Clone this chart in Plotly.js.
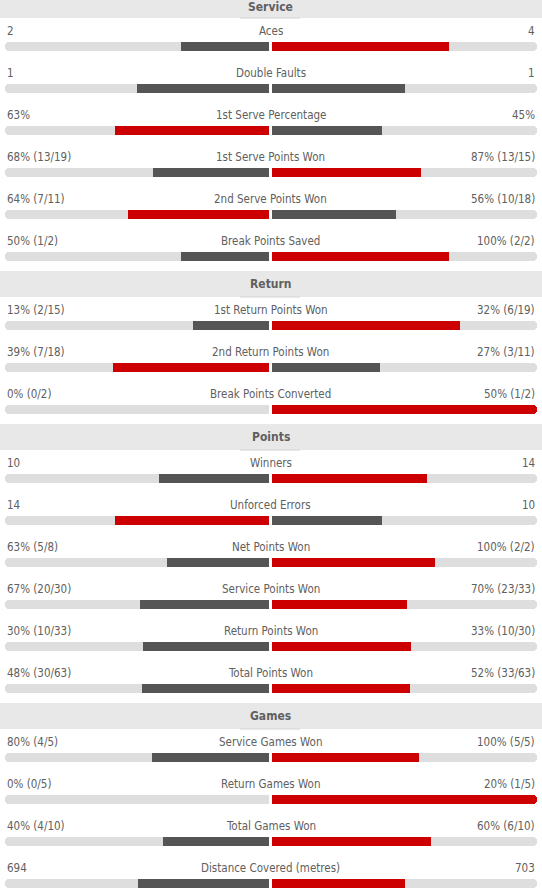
<!DOCTYPE html>
<html>
<head>
<meta charset="utf-8">
<script src="https://cdn.plot.ly/plotly-3.0.1.min.js"></script>
<style>
html,body{margin:0;padding:0;background:#fff;}
#chart{width:542px;height:890px;}
</style>
</head>
<body>
<div id="chart"></div>
<script>
// ---- DATA ----
const sectionNames = ["Service", "Return", "Points", "Games"];
const sectionSizes = [6, 3, 6, 4];

const statNames = [
  "Aces", "Double Faults", "1st Serve Percentage", "1st Serve Points Won", "2nd Serve Points Won", "Break Points Saved",
  "1st Return Points Won", "2nd Return Points Won", "Break Points Converted",
  "Winners", "Unforced Errors", "Net Points Won", "Service Points Won", "Return Points Won", "Total Points Won",
  "Service Games Won", "Return Games Won", "Total Games Won", "Distance Covered (metres)"
];
const leftValues  = [2, 1, 63, 68, 64, 50, 13, 39, 0, 10, 14, 63, 67, 30, 48, 80, 0, 40, 694];
const rightValues = [4, 1, 45, 87, 56, 100, 32, 27, 50, 14, 10, 100, 70, 33, 52, 100, 20, 60, 703];
const leftLabels = ["2", "1", "63%", "68% (13/19)", "64% (7/11)", "50% (1/2)",
  "13% (2/15)", "39% (7/18)", "0% (0/2)",
  "10", "14", "63% (5/8)", "67% (20/30)", "30% (10/33)", "48% (30/63)",
  "80% (4/5)", "0% (0/5)", "40% (4/10)", "694"];
const rightLabels = ["4", "1", "45%", "87% (13/15)", "56% (10/18)", "100% (2/2)",
  "32% (6/19)", "27% (3/11)", "50% (1/2)",
  "14", "10", "100% (2/2)", "70% (23/33)", "33% (10/30)", "52% (33/63)",
  "100% (5/5)", "20% (1/5)", "60% (6/10)", "703"];

// ---- STYLE / LAYOUT CONSTANTS ----
const W = 542, H = 890;
const RED = "#cc0000", DARK = "#555555", TRACK = "#dedede", BAND = "#e8e8e8", TXT = "#606060";
const FONT = "Tahoma, 'DejaVu Sans Condensed', 'Liberation Sans', sans-serif";
const leftBase = 269, rightBase = 272, leftHalf = 264, rightHalf = 265;
const headerH = 27, rowH = 42, startY = -8;
const barH = 9, capLen = 20, RADIUS = 4;

// compute row positions
const barY = [], labelY = [], bands = [];
let cur = startY;
sectionSizes.forEach((n, s) => {
  bands.push({top: cur, name: sectionNames[s]});
  cur += headerH;
  for (let k = 0; k < n; k++) {
    labelY.push(cur + 12);
    barY.push(cur + 23 + barH / 2);
    cur += rowH;
  }
});

const N = statNames.length;
const leftLen = [], rightLen = [], leftCol = [], rightCol = [];
for (let i = 0; i < N; i++) {
  const tot = leftValues[i] + rightValues[i];
  leftLen.push(-(tot ? leftValues[i] / tot : 0) * leftHalf);
  rightLen.push((tot ? rightValues[i] / tot : 0) * rightHalf);
  leftCol.push(leftValues[i] > rightValues[i] ? RED : DARK);
  rightCol.push(rightValues[i] > leftValues[i] ? RED : DARK);
}

function barTrace(ys, xs, base, color, radius) {
  return {
    type: "bar", orientation: "h", y: ys, x: xs, base: base,
    width: barH, marker: {color: color, line: {width: 0}, cornerradius: radius},
    hoverinfo: "skip"
  };
}

const traces = [];
// a bar that is square at its inner end and rounded at its outer end:
// square body + short rounded cap overlapping the outer end
function addRoundedEnd(ys, lens, base, colors) {
  const sgn = lens.map(l => Math.sign(l));
  traces.push(barTrace(ys, lens.map((l, j) => l - sgn[j] * RADIUS), base, colors, 0));
  traces.push(barTrace(ys, lens.map((l, j) => sgn[j] * capLen),
    lens.map((l, j) => base + l - sgn[j] * capLen), colors, RADIUS));
}
addRoundedEnd(barY, barY.map(() => -leftHalf), leftBase, TRACK);
addRoundedEnd(barY, barY.map(() => rightHalf), rightBase, TRACK);

function addValueBars(lens, cols, base, half) {
  const part = {y: [], x: [], c: []}, full = {y: [], x: [], c: []};
  for (let i = 0; i < N; i++) {
    if (lens[i] === 0) continue;
    const t = Math.abs(Math.abs(lens[i]) - half) < 0.01 ? full : part;
    t.y.push(barY[i]); t.x.push(lens[i]); t.c.push(cols[i]);
  }
  if (part.y.length) traces.push(barTrace(part.y, part.x, base, part.c, 0));
  if (full.y.length) addRoundedEnd(full.y, full.x, base, full.c);
}
addValueBars(leftLen, leftCol, leftBase, leftHalf);
addValueBars(rightLen, rightCol, rightBase, rightHalf);

const shapes = [], annotations = [];
bands.forEach(b => {
  shapes.push({type: "rect", xref: "paper", x0: 0, x1: 1, yref: "y", y0: b.top, y1: b.top + 26,
    fillcolor: BAND, line: {width: 0}, layer: "below"});
  shapes.push({type: "line", xref: "x", x0: 240, x1: 300, yref: "y", y0: b.top + 26, y1: b.top + 26,
    line: {color: "#d2d2d2", width: 1}, layer: "below"});
  annotations.push({x: 270.5, y: Math.max(b.top + 13, 6.5), xref: "x", yref: "y", text: "<b>" + b.name + "</b>",
    showarrow: false, xanchor: "center", yanchor: "middle", font: {family: FONT, size: 12, color: TXT}});
});
for (let i = 0; i < N; i++) {
  const f = {family: FONT, size: 11.5, color: TXT};
  annotations.push({x: 5, y: labelY[i], xref: "x", yref: "y", text: leftLabels[i], showarrow: false,
    xanchor: "left", yanchor: "middle", font: f});
  annotations.push({x: 270.5, y: labelY[i], xref: "x", yref: "y", text: statNames[i], showarrow: false,
    xanchor: "center", yanchor: "middle", font: f});
  annotations.push({x: 537, y: labelY[i], xref: "x", yref: "y", text: rightLabels[i], showarrow: false,
    xanchor: "right", yanchor: "middle", font: f});
}

const layout = {
  width: W, height: H,
  margin: {l: 0, r: 0, t: 0, b: 0, pad: 0},
  paper_bgcolor: "#ffffff", plot_bgcolor: "#ffffff",
  barmode: "overlay", bargap: 0, showlegend: false,
  xaxis: {range: [0, W], visible: false, fixedrange: true},
  yaxis: {range: [H, 0], visible: false, fixedrange: true},
  shapes: shapes, annotations: annotations,
  font: {family: FONT}
};
Plotly.newPlot("chart", traces, layout, {displayModeBar: false, staticPlot: true});
</script>
</body>
</html>
